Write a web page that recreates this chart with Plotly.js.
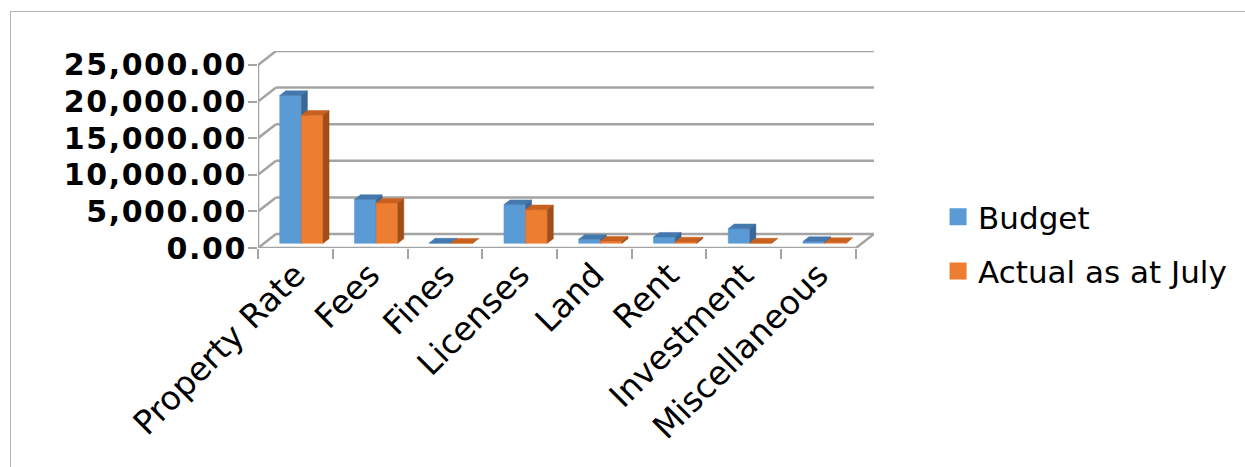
<!DOCTYPE html>
<html>
<head>
<meta charset="utf-8">
<script src="https://cdn.plot.ly/plotly-3.0.1.min.js"></script>
<style>
  html, body { margin: 0; padding: 0; background: #ffffff; overflow: hidden; }
  #chart { width: 1245px; height: 467px; position: absolute; left: 0; top: 0; }
  #frame { position: absolute; left: 10px; top: 11px; width: 1300px; height: 500px;
           border: 1px solid #B4B4B4; pointer-events: none; }
  #chart .ytick text { letter-spacing: 1.6px; }
</style>
</head>
<body>
<div id="chart"></div>
<div id="frame"></div>
<script>
// ---- data ----
const categories = ['Property Rate', 'Fees', 'Fines', 'Licenses', 'Land', 'Rent', 'Investment', 'Miscellaneous'];
const budget = [20200, 6000, 60, 5300, 550, 850, 2000, 250];
const actual = [17500, 5500, 40, 4600, 300, 200, 50, 120];
const seriesNames = ['Budget', 'Actual as at July'];
const yTickVals = [0, 5000, 10000, 15000, 20000, 25000];
const yTickLabels = ['0.00', '5,000.00', '10,000.00', '15,000.00', '20,000.00', '25,000.00'];

// ---- 3D styling (depth of the floor / walls in axis units) ----
const DX = 0.241;     // horizontal depth offset (x units)
const DY = 1909;      // vertical depth offset (y units)
const BAR_W = 0.29;   // bar width (x units)
const d0 = 1 / 3;     // front face of bars sits at 1/3 depth
const dB = 1 / 3;     // bar depth fraction
const yMax = yTickVals[yTickVals.length - 1];
const nCat = categories.length;

const colors = {
  Budget: { front: '#5B9BD5', top: '#4478AE', side: '#3A6796' },
  Actual: { front: '#ED7D31', top: '#C8611F', side: '#A24E18' }
};

function faces(values, seriesIdx) {
  const front = { x: [], y: [] }, top = { x: [], y: [] }, side = { x: [], y: [] };
  const base = DY * d0, dx = DX * dB, dy = DY * dB;
  values.forEach((v, i) => {
    const L = i + DX * d0 - BAR_W + seriesIdx * BAR_W;
    const R = L + BAR_W;
    const T = base + v;
    front.x.push(L, R, R, L, L, null); front.y.push(base, base, T, T, base, null);
    top.x.push(L, R, R + dx, L + dx, L, null); top.y.push(T, T, T + dy, T + dy, T, null);
    side.x.push(R, R + dx, R + dx, R, R, null); side.y.push(base, base + dy, T + dy, T, base, null);
  });
  return { front, top, side };
}

function poly(p, color) {
  return { type: 'scatter', mode: 'lines', x: p.x, y: p.y, fill: 'toself', fillcolor: color,
           line: { color: color, width: 0.5 }, hoverinfo: 'skip', showlegend: false, xaxis: 'x', yaxis: 'y' };
}

const fb = faces(budget, 0), fa = faces(actual, 1);
const traces = [
  poly(fb.front, colors.Budget.front), poly(fb.top, colors.Budget.top), poly(fb.side, colors.Budget.side),
  poly(fa.front, colors.Actual.front), poly(fa.top, colors.Actual.top), poly(fa.side, colors.Actual.side),
  { type: 'bar', name: seriesNames[0], x: [null], y: [null], xaxis: 'x2', yaxis: 'y', legendgroup: 'b',
    marker: { color: colors.Budget.front, line: { color: colors.Budget.front, width: 5 } } },
  { type: 'bar', name: seriesNames[1], x: [null], y: [null], xaxis: 'x2', yaxis: 'y', legendgroup: 'a',
    marker: { color: colors.Actual.front, line: { color: colors.Actual.front, width: 5 } } }
];

// ---- walls / floor frame ----
const gridColor = '#A3A3A3';
const shapes = [];
function seg(x0, y0, x1, y1, w) {
  shapes.push({ type: 'line', xref: 'x', yref: 'y', x0, y0, x1, y1, layer: 'below',
                line: { color: gridColor, width: w || 2.5 } });
}
yTickVals.forEach(v => {
  seg(-0.5 + DX, v + DY, nCat - 0.5 + DX, v + DY);
  seg(-0.5, v, -0.5 + DX, v + DY);
});
seg(-0.5, 0, nCat - 0.5, 0);                 // floor front edge
seg(nCat - 0.5, 0, nCat - 0.5 + DX, DY);     // floor right edge
seg(-0.5, 0, -0.5, yMax, 2.5);               // front value axis

const boundaries = [];
for (let i = 0; i <= nCat; i++) boundaries.push(i - 0.5);
const centers = categories.map((c, i) => i);

const xRange = [-0.5, nCat - 0.5 + DX];
const layout = {
  width: 1245, height: 467,
  margin: { l: 258, r: 371, t: 51, b: 219, pad: 0 },
  paper_bgcolor: '#ffffff', plot_bgcolor: 'rgba(0,0,0,0)',
  showlegend: true,
  legend: { x: 1.104, xanchor: 'left', y: 0.02, yanchor: 'middle', tracegroupgap: 11,
            font: { family: 'DejaVu Sans', size: 31, color: '#000000' }, bgcolor: 'rgba(0,0,0,0)' },
  xaxis: { range: xRange, tickmode: 'array', tickvals: boundaries, showticklabels: false,
           ticks: 'outside', ticklen: 10, tickwidth: 2, tickcolor: gridColor,
           showgrid: false, zeroline: false, showline: false, fixedrange: true },
  xaxis2: { range: xRange, overlaying: 'x', anchor: 'y', side: 'bottom', tickmode: 'array',
            tickvals: centers, ticktext: categories, tickangle: -45, ticks: '', ticklabelstandoff: 0,
            tickfont: { family: 'DejaVu Sans', size: 33, color: '#000000' },
            showgrid: false, zeroline: false, showline: false, fixedrange: true },
  yaxis: { range: [0, yMax + DY], tickmode: 'array', tickvals: yTickVals, ticktext: yTickLabels,
           ticks: 'outside', ticklen: 9, tickwidth: 2, tickcolor: gridColor, ticklabelstandoff: -5,
           tickfont: { family: 'DejaVu Sans', size: 30, weight: 'bold', color: '#000000' },
           showgrid: false, zeroline: false, showline: false, fixedrange: true },
  shapes: shapes
};

Plotly.newPlot('chart', traces, layout, { staticPlot: true, displayModeBar: false });
</script>
</body>
</html>
